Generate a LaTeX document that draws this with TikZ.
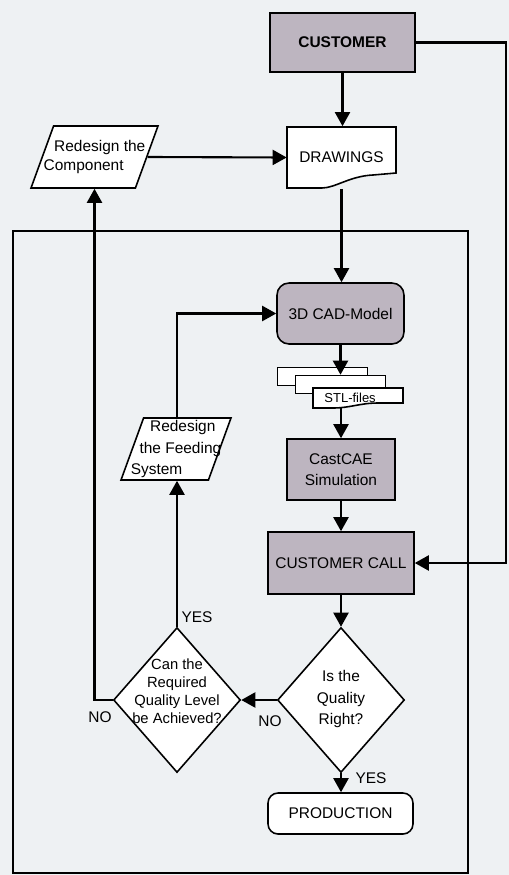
\documentclass[tikz,border=0pt]{standalone}
\usepackage{fontspec}
\setmainfont{Liberation Sans}
\usetikzlibrary{arrows.meta,shapes.geometric}

\definecolor{boxgray}{RGB}{189,181,192}
\definecolor{paper}{RGB}{238,241,243}
\newcommand{\chartfont}{\fontsize{8.8}{12}\selectfont}

\tikzset{
  base/.style={draw, line width=0.9pt, font=\chartfont, inner sep=1pt, align=center},
  plain/.style={font=\chartfont, inner sep=1pt, align=center},
  grayblock/.style={base, fill=boxgray},
  roundblock/.style={base, rounded corners=0.24cm},
  para/.style={draw, line width=0.9pt, fill=white, shape=trapezium, trapezium left angle=70,
    trapezium right angle=110, trapezium stretches body, inner sep=0pt},
  decision/.style={draw, line width=0.9pt, fill=white, diamond, minimum width=2.54cm,
    minimum height=2.9cm, inner sep=0pt},
  txt/.style={font=\chartfont, inner sep=0pt, align=center},
  conn/.style={line width=1.2pt, -{Triangle[length=0.28cm,width=0.3cm]}}
}

\begin{document}
\begin{tikzpicture}[x=0.02cm, y=-0.02cm]

% === Page ===
\fill[paper] (0,0) rectangle (509,875);
\useasboundingbox (0,0) rectangle (509,875);

% === Frame round the simulation loop ===
\draw[line width=0.6pt] (13,231) rectangle (468,873);

% === Top: customer and drawings ===
\node[grayblock, minimum width=2.9cm, minimum height=1.18cm,
  font=\chartfont\bfseries] (cust) at (342.5,42.5) {CUSTOMER};

% document outline of the drawings
\draw[line width=0.9pt, fill=white] (287,127) -- (396,127) -- (396,173) -- (373,175)
  .. controls (350,176) and (335,188) .. (322,188) -- (287,188) -- cycle;
\node[plain, minimum width=2.18cm, minimum height=1.24cm] (drw) at (341.5,157.5) {DRAWINGS};

\node[para, minimum width=2.54cm] (redcomp) at (94.5,157) {\rule{0pt}{1.24cm}};
\node[txt, align=left] (redcomptxt) at (redcomp.center) {\hspace*{6pt}Redesign the\\[-1pt]Component};

% === Model and simulation ===
\node[roundblock, fill=boxgray, minimum width=2.54cm, minimum height=1.22cm] (cad)
  at (340.5,313.5) {3D CAD-Model};

% stack of STL files
\foreach \cx/\cy/\nm in {322.5/376.5/stlA, 340.5/384.5/stlB} {
  \node[base, fill=white, minimum width=1.8cm, minimum height=0.36cm] (\nm) at (\cx,\cy) {};
}
\draw[line width=0.9pt, fill=white] (313,388) -- (403,388) -- (403,403) -- (378,403)
  .. controls (360,403) and (350,408) .. (333,408) -- (313,408) -- cycle;
\node[plain, minimum width=1.8cm, minimum height=0.4cm, font=\fontsize{7.4}{9}\selectfont]
  (stl) at (358,398) {STL-files\hspace*{9pt}};

\node[grayblock, minimum width=2.16cm, minimum height=1.22cm] (cast) at (341,469.5)
  {CastCAE\\Simulation};
\node[grayblock, minimum width=2.92cm, minimum height=1.24cm] (call) at (341,563)
  {CUSTOMER CALL};

% === Decisions ===
\node[decision] (qok) at (341,700) {};
\node[txt] (qoktxt) at (341,699) {Is the\\Quality\\Right?};
\node[decision] (qlev) at (177,700) {};
\node[txt, font=\fontsize{8.4}{10.2}\selectfont] (qlevtxt) at (177,691)
  {Can the\\Required\\Quality Level\\be Achieved?};

\node[para, minimum width=2.2cm] (feed) at (176,449) {\rule{0pt}{1.24cm}};
\node[txt, align=left] (feedtxt) at (feed.center)
  {\hspace*{11pt}Redesign\\\hspace*{5pt}the Feeding\\System};

\node[roundblock, fill=white, rounded corners=0.2cm, minimum width=2.9cm,
  minimum height=0.82cm] (prod) at (340.5,813.5) {PRODUCTION};

% === Labels ===
\node[txt] (yesA) at (197,617) {YES};
\node[txt] (noA) at (100,717) {NO};
\node[txt] (noB) at (270,721) {NO};
\node[txt] (yesB) at (371,778) {YES};

% === Connectors ===
\coordinate (cright) at (506,42.5);
\draw[conn] (cust.south) -- (cust.south |- drw.north);
\draw[conn] (redcomp.east) -- (drw.west);
\draw[conn] (drw.south) -- (drw.south |- cad.north);
\draw[conn] (cust.east) -- (cright) |- (call.east);
\draw[conn] (cad.south) -- (cad.south |- stlB.north);
\draw[conn] (cast.north |- stl.south) -- (cast.north);
\draw[conn] (cast) -- (call);
\draw[conn] (call) -- (qok);
\draw[conn] (qok.south) -- (qok.south |- prod.north);
\draw[conn] (qok.west) -- (qlev.east);
\draw[conn] (qlev.west) -| (redcomp.south);
\draw[conn] (qlev.north) -- (qlev.north |- feed.south);
\draw[conn] (qlev.north |- feed.north) |- (cad.west);

\end{tikzpicture}
\end{document}
